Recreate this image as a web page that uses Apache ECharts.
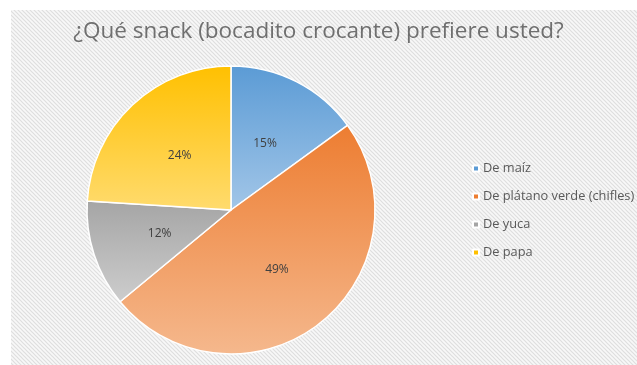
<!DOCTYPE html>
<html>
<head>
<meta charset="utf-8">
<script src="https://cdn.jsdelivr.net/npm/echarts@6/dist/echarts.min.js"></script>
<style>
  html, body { margin: 0; padding: 0; background: #ffffff; }
  #chart { width: 637px; height: 365px; }
</style>
</head>
<body>
<div id="chart"></div>
<script>
// Survey: preferred crunchy snack
const titleText = '¿Qué snack (bocadito crocante) prefiere usted?';
const categories = ['De maíz', 'De plátano verde (chifles)', 'De yuca', 'De papa'];
const shares = [15, 49, 12, 24];
const topColors = ['#5B9BD5', '#ED7D31', '#A5A5A5', '#FFC000'];
const bottomColors = ['#A2C6E8', '#F5B88D', '#CDCDCD', '#FFDB6E'];

// Diagonal hatch used as the chart background
function makeHatch() {
  const c = document.createElement('canvas');
  const s = 4;
  c.width = s; c.height = s;
  const g = c.getContext('2d');
  g.fillStyle = '#f8f8f8';
  g.fillRect(0, 0, s, s);
  g.strokeStyle = '#dedede';
  g.lineWidth = 1.2;
  g.beginPath();
  g.moveTo(-1, -1); g.lineTo(s + 1, s + 1);
  g.moveTo(-1, s - 1); g.lineTo(1, s + 1);
  g.moveTo(s - 1, -1); g.lineTo(s + 1, 1);
  g.stroke();
  return c;
}

const chart = echarts.init(document.getElementById('chart'), null, { renderer: 'canvas' });

const pieData = categories.map((name, i) => ({
  name: name,
  value: shares[i],
  itemStyle: {
    color: new echarts.graphic.LinearGradient(0, 0, 0, 1, [
      { offset: 0, color: topColors[i] },
      { offset: 1, color: bottomColors[i] }
    ])
  }
}));

chart.setOption({
  animation: false,
  backgroundColor: '#ffffff',
  graphic: [{
    type: 'rect',
    z: -10,
    silent: true,
    shape: { x: 11, y: 10, width: 626, height: 355 },
    style: { fill: { image: makeHatch(), repeat: 'repeat' } }
  }],
  title: {
    text: titleText,
    left: 'center',
    top: 20,
    padding: 0,
    textStyle: {
      fontFamily: 'Open Sans',
      fontSize: 22.5,
      fontWeight: 'normal',
      color: '#6f6f6f'
    }
  },
  legend: {
    orient: 'vertical',
    left: 472,
    top: 161.5,
    padding: 0,
    itemWidth: 6,
    itemHeight: 6,
    itemGap: 14,
    icon: 'rect',
    data: categories.map((n, i) => ({ name: n, itemStyle: { color: topColors[i] } })),
    textStyle: {
      fontFamily: 'Open Sans',
      fontSize: 12.8,
      lineHeight: 14,
      color: '#595959',
      padding: [0, 0, 0, -1]
    }
  },
  series: [{
    type: 'pie',
    center: [231, 210],
    radius: [0, 144],
    startAngle: 90,
    clockwise: true,
    data: pieData,
    itemStyle: { borderColor: '#ffffff', borderWidth: 1.5 },
    label: {
      show: true,
      position: 'inside',
      formatter: '{c}%',
      fontFamily: 'Open Sans',
      fontSize: 12,
      color: '#404040'
    },
    labelLine: { show: false },
    emphasis: { disabled: true }
  }]
});
</script>
</body>
</html>
